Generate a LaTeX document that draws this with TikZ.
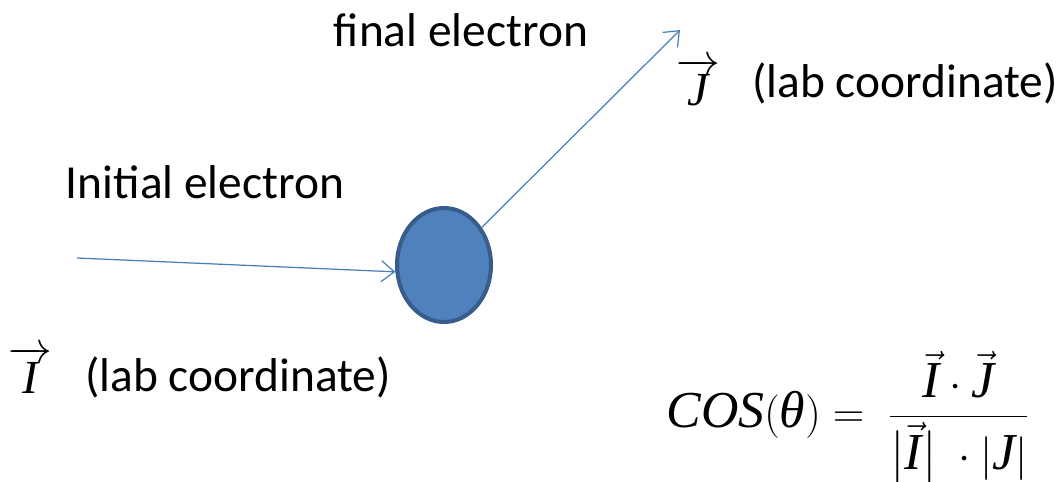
\documentclass[tikz,border=0pt]{standalone}
\usepackage{amsmath}
\usepackage{fontspec}
\setmainfont{Carlito}
\newfontfamily\mathfnt{Liberation Serif}
\newcommand{\mv}[1]{\text{\mathfnt\itshape #1}}
\usetikzlibrary{arrows.meta, positioning, shapes.geometric}

\definecolor{ballfill}{HTML}{4F81BD}
\definecolor{balldraw}{HTML}{385D8A}
\definecolor{trackblue}{HTML}{4A7EBB}

\begin{document}
\begin{tikzpicture}[
    x=0.02cm, y=-0.02cm,
    label/.style={font=\fontsize{27}{32}\selectfont, inner sep=0pt},
    track/.style={-{Straight Barb[length=0.26cm, width=0.42cm]}, trackblue, line width=0.7pt},
    ball/.style={ellipse, fill=ballfill, draw=balldraw, line width=2.3pt,
                 minimum width=1.88cm, minimum height=2.28cm, inner sep=0pt}
]
\useasboundingbox (0,0) rectangle (1064,481);

% Scattering point
\node[ball] (scatter) at (444,265) {};

% Track ends
\coordinate (inI) at (77,258);
\coordinate (outJ) at (680,30);

% Tracks
\draw[track] (inI) -- (scatter.188);
\draw[track] (scatter) -- (outJ);

% Labels
\node[label] (finlab) at (461,30) {final electron};
\node[label] (inilab) at (205,182) {Initial electron};
\node[label] (vecI) at (30,370) {$\overrightarrow{\mv{I}}$};
\node[label, anchor=west] (labI) at (85,377) {(lab coordinate)};
\node[label] (vecJ) at (698,82) {$\overrightarrow{\mv{J}}$};
\node[label, anchor=west] (labJ) at (752,83) {(lab coordinate)};

% Formula
\node[label, font=\fontsize{29.5}{34}\selectfont] (cosform) at (848,418)
  {$\mv{COS}(\mv{θ}) =\ \dfrac{\vec{\mv{I}}\cdot\vec{\mv{J}}}{\bigl|\vec{\mv{I}}\bigr|\ \cdot|\mv{J}|}$};
\end{tikzpicture}
\end{document}
